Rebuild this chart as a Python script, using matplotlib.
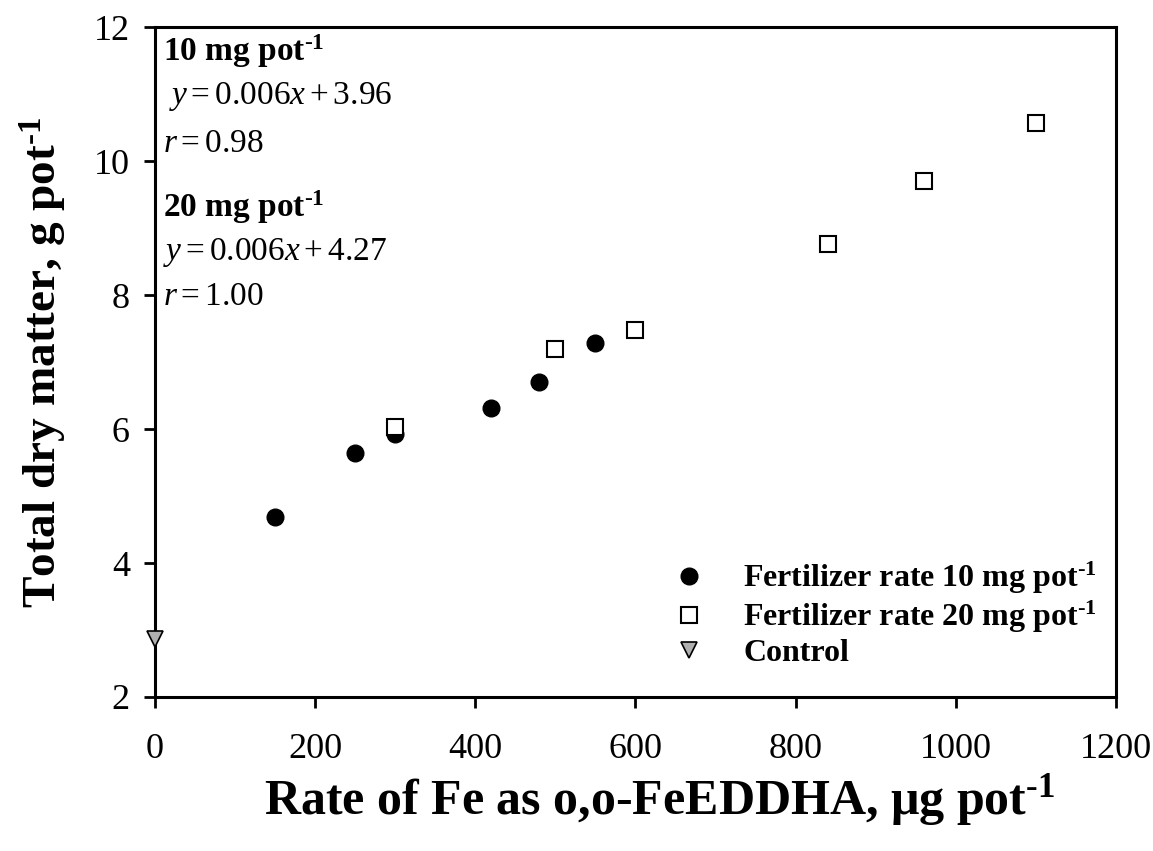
import matplotlib
matplotlib.use("Agg")
import matplotlib.pyplot as plt

plt.rcParams["font.family"] = ["Liberation Serif", "DejaVu Serif"]
plt.rcParams["mathtext.fontset"] = "custom"
plt.rcParams["mathtext.rm"] = "Liberation Serif"
plt.rcParams["mathtext.it"] = "Liberation Serif:italic"
plt.rcParams["mathtext.bf"] = "Liberation Serif:bold"

# data
fe_10 = [150, 250, 300, 420, 480, 550]
dm_10 = [4.68, 5.64, 5.92, 6.31, 6.71, 7.29]
fe_20 = [300, 500, 600, 840, 960, 1100]
dm_20 = [6.03, 7.19, 7.48, 8.77, 9.71, 10.57]
fe_ctrl = [0]
dm_ctrl = [2.86]

x_ticks = [0, 200, 400, 600, 800, 1000, 1200]
y_ticks = [2, 4, 6, 8, 10, 12]

SUP = r"$^{\mathbf{\text{-}1}}$"

fig = plt.figure(figsize=(11.53, 8.51), dpi=100)
ax = fig.add_axes([0.1344, 0.181, 0.8335, 0.787])

ax.plot(fe_10, dm_10, "o", color="black", markersize=12,
        label="Fertilizer rate 10 mg pot" + SUP, clip_on=False)
ax.plot(fe_20, dm_20, "s", markerfacecolor="white", markeredgecolor="black",
        markeredgewidth=1.5, markersize=11,
        label="Fertilizer rate 20 mg pot" + SUP, clip_on=False)
ax.plot(fe_ctrl, dm_ctrl, "v", markerfacecolor="#b0b0b0", markeredgecolor="black",
        markeredgewidth=1.2, markersize=11, label="Control", clip_on=False, zorder=5)

ax.set_xlim(0, 1200)
ax.set_ylim(2, 12)
ax.set_xticks(x_ticks)
ax.set_yticks(y_ticks)
ax.tick_params(direction="out", length=8, width=2, labelsize=26)
ax.tick_params(axis="x", pad=18)
ax.tick_params(axis="y", pad=10)
for s in ax.spines.values():
    s.set_linewidth(2.2)

ax.set_xlabel(r"Rate of Fe as o,o-FeEDDHA, $\mathbf{\mu}$g pot" + SUP,
              fontsize=36, fontweight="bold")
ax.xaxis.set_label_coords(0.525, -0.112)
ax.set_ylabel("Total dry matter, g pot" + SUP,
              fontsize=34, fontweight="bold", labelpad=18)

# regression notes in the upper left corner
notes = [
    (11.5, "10 mg pot" + SUP, "bold"),
    (10.86, r" $y = 0.006x + 3.96$", "normal"),
    (10.13, r"$r = 0.98$", "normal"),
    (9.16, "20 mg pot" + SUP, "bold"),
    (8.52, r"$y = 0.006x + 4.27$", "normal"),
    (7.85, r"$r = 1.00$", "normal"),
]
for yy, txt, wt in notes:
    ax.text(10, yy, txt, fontsize=24, fontweight=wt, va="baseline", ha="left")

leg = ax.legend(loc="lower right", bbox_to_anchor=(1.0, 0.015), frameon=False,
                prop={"weight": "bold", "size": 23}, handlelength=1.0,
                handletextpad=1.2, labelspacing=0.1, borderaxespad=0.2)

fig.savefig("out.png", dpi=100)
